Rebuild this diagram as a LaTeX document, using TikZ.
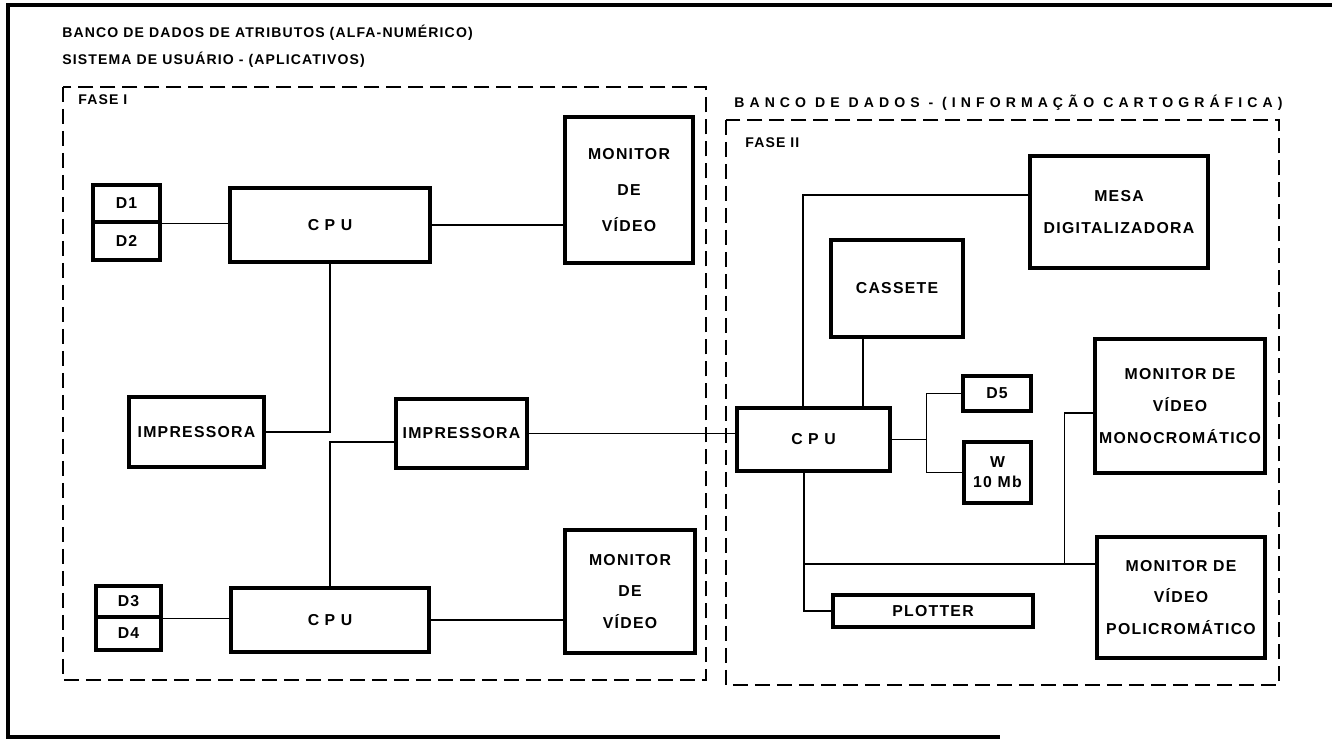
\documentclass[tikz,border=0pt]{standalone}
\usepackage{fontspec}
\newfontfamily\lettering[LetterSpace=8]{Liberation Sans}
\usetikzlibrary{positioning}

\begin{document}
\begin{tikzpicture}[
        x=0.02cm, y=-0.02cm,
        unit/.style={rectangle, draw, line width=2pt, inner sep=0pt, align=center,
            font=\lettering\bfseries\fontsize{9}{18}\selectfont},
        cpubox/.style={unit, font=\lettering\bfseries\fontsize{9}{18}\selectfont\addfontfeature{LetterSpace=35}},
        heading/.style={anchor=base west, inner sep=0pt,
            font=\lettering\bfseries\fontsize{8}{10}\selectfont},
        phase/.style={draw, line width=1.2pt, dash pattern=on 0.3cm off 0.14cm},
        border/.style={draw, line width=2.2pt},
        wire/.style={draw, line width=0.8pt}
    ]
        \useasboundingbox (0,0) rectangle (1332,746);
        \draw[border] (1332,5) -- (8,5) -- (8,737) -- (1000,737);

        \node[heading] (title1) at (62,38) {BANCO DE DADOS DE ATRIBUTOS (ALFA-NUMÉRICO)};
        \node[heading] (title2) at (62,65) {SISTEMA DE USUÁRIO - (APLICATIVOS)};
        \node[heading] (fase1) at (78,105) {FASE I};
        \node[heading, font=\lettering\bfseries\fontsize{8}{10}\selectfont\addfontfeature{LetterSpace=36}] (title3) at (734,108) {BANCO DE DADOS - (INFORMAÇÃO CARTOGRÁFICA)};
        \node[heading] (fase2) at (745,148) {FASE II};

        \draw[phase] (63,87) rectangle (706,680);
        \draw[phase] (726,120) rectangle (1279,685);

        \node[unit, minimum width=1.34cm, minimum height=0.74cm] (d1) at (126.5,203.5) {D1};
        \node[unit, minimum width=1.34cm, minimum height=0.76cm, below=-2pt of d1] (d2) {D2};
        \node[cpubox, minimum width=4cm, minimum height=1.48cm] (cpua) at (330,225) {CPU};
        \node[unit, minimum width=2.56cm, minimum height=2.92cm] (mona) at (629,190) {MONITOR\\[2.5pt]DE\\[2.5pt]VÍDEO};
        \node[unit, minimum width=2.7cm, minimum height=1.4cm] (impa) at (196.5,432) {IMPRESSORA};
        \node[unit, minimum width=2.62cm, minimum height=1.38cm] (impb) at (461.5,433.5) {IMPRESSORA};
        \node[unit, minimum width=1.3cm, minimum height=0.62cm] (d3) at (128.5,601.5) {D3};
        \node[unit, minimum width=1.3cm, minimum height=0.66cm, below=-2pt of d3] (d4) {D4};
        \node[cpubox, minimum width=3.96cm, minimum height=1.28cm] (cpub) at (330,620) {CPU};
        \node[unit, minimum width=2.6cm, minimum height=2.46cm] (monb) at (630,591.5) {MONITOR\\DE\\VÍDEO};

        \node[unit, minimum width=3.56cm, minimum height=2.24cm] (mesa) at (1119,212) {MESA\\DIGITALIZADORA};
        \node[unit, minimum width=2.64cm, minimum height=1.94cm] (cassete) at (897,288.5) {CASSETE};
        \node[cpubox, minimum width=3.06cm, minimum height=1.26cm] (cpuc) at (813.5,439.5) {CPU};
        \node[unit, minimum width=1.36cm, minimum height=0.7cm] (d5) at (997,393.5) {D5};
        \node[unit, minimum width=1.34cm, minimum height=1.22cm, font=\lettering\bfseries\fontsize{9}{11.5}\selectfont] (wdisk) at (997.5,472.5) {W\\10 Mb};
        \node[unit, minimum width=3.4cm, minimum height=2.68cm] (monc) at (1180,406) {MONITOR DE\\VÍDEO\\MONOCROMÁTICO};
        \node[unit, minimum width=3.36cm, minimum height=2.42cm] (mond) at (1181,597.5) {MONITOR DE\\VÍDEO\\POLICROMÁTICO};
        \node[unit, minimum width=4cm, minimum height=0.64cm] (plotter) at (933,611) {PLOTTER};

        \coordinate (castap) at ([xshift=-0.68cm]cassete.south);
        \coordinate (mesatap) at ([xshift=-0.21cm]cpuc.north);
        \coordinate (fork) at ([xshift=0.7cm]cpuc.east);
        \coordinate (bustap) at ([xshift=-0.19cm]cpuc.south);
        \coordinate (busend) at ([yshift=0.67cm]mond.west);

        \draw[wire] (d1.south east) -- (d1.south east -| cpua.west);
        \draw[wire] (cpua.east) -- (cpua.east -| mona.west);
        \draw[wire] (cpua.south) |- (impa.east);
        \draw[wire] ([yshift=-0.17cm]impb.west) -| (cpub.north);
        \draw[wire] (impb.east) -- (impb.east -| cpuc.west);
        \draw[wire] (d3.south east) -- (d3.south east -| cpub.west);
        \draw[wire] (cpub.east) -- (cpub.east -| monb.west);

        \draw[wire] (mesatap) |- ([yshift=0.34cm]mesa.west);
        \draw[wire] (castap) -- (castap |- cpuc.north);
        \draw[wire] (cpuc.east) -- (fork);
        \draw[wire] (d5.west) -| (fork) |- (wdisk.west);
        \draw[wire] (bustap) |- (busend);
        \draw[wire] (bustap) |- (plotter.west);
        \draw[wire] ([yshift=-0.14cm]monc.west) -| ([xshift=-0.62cm]busend);
    \end{tikzpicture}
\end{document}
